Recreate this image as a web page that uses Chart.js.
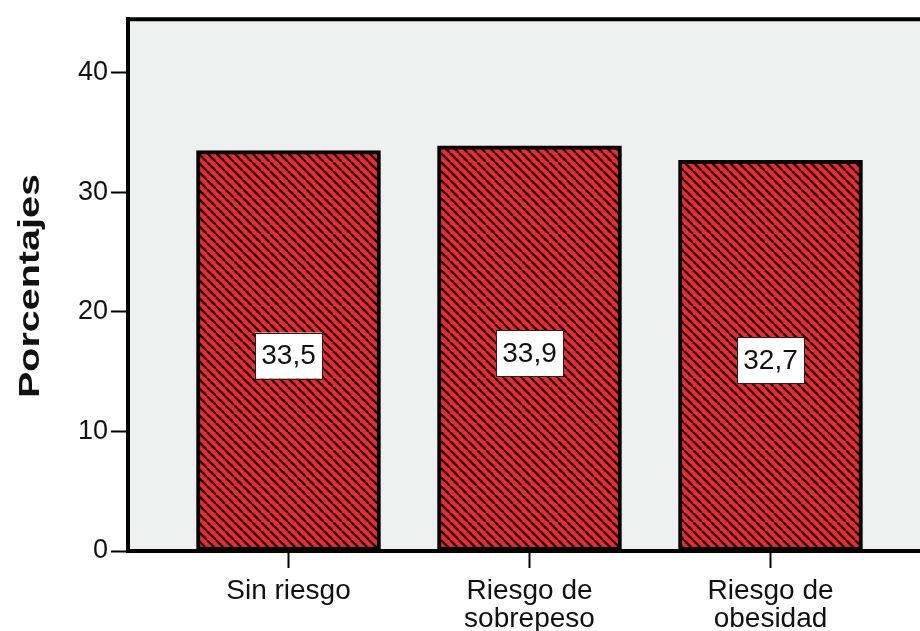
<!DOCTYPE html>
<html>
<head>
<meta charset="utf-8">
<script src="https://cdn.jsdelivr.net/npm/chart.js@4/dist/chart.umd.min.js"></script>
<style>
  html, body { margin: 0; padding: 0; background: #fff; overflow: hidden; }
  #wrap { width: 950px; height: 631px; }
</style>
</head>
<body>
<div id="wrap"><canvas id="chart" width="950" height="631"></canvas></div>
<script>
// Porcentajes por categoría de riesgo
const categories = [['Sin riesgo'], ['Riesgo de', 'sobrepeso'], ['Riesgo de', 'obesidad']];
const values = [33.5, 33.9, 32.7];
const yTicks = [0, 10, 20, 30, 40];
const yTitle = 'Porcentajes';

const FONT = '"Liberation Sans", Arial, sans-serif';

// diagonal hatch fill (red with black "\" stripes)
function makeHatch() {
    const size = 9;
    const c = document.createElement('canvas');
    c.width = size; c.height = size;
    const g = c.getContext('2d');
    g.fillStyle = '#ec2a30';
    g.fillRect(0, 0, size, size);
    g.strokeStyle = '#220707';
    g.lineWidth = 2.4;
    for (const k of [-size, 0, size]) {
        g.beginPath();
        g.moveTo(k, 0);
        g.lineTo(k + size, size);
        g.stroke();
    }
    return g.createPattern(c, 'repeat');
}

// plot background + top/right frame
const frame = {
    id: 'frame',
    beforeDraw(chart) {
        const { ctx, chartArea: a } = chart;
        ctx.save();
        ctx.fillStyle = '#eff1f1';
        ctx.fillRect(a.left, a.top, a.right - a.left, a.bottom - a.top);
        ctx.restore();
    },
    afterDatasetsDraw(chart) {
        const { ctx, chartArea: a } = chart;
        ctx.save();
        ctx.strokeStyle = '#000';
        ctx.lineWidth = 4;
        ctx.beginPath();
        ctx.moveTo(a.left - 2, a.top);
        ctx.lineTo(a.right, a.top);
        ctx.lineTo(a.right, a.bottom);
        ctx.stroke();
        ctx.restore();
    }
};

// boxed value labels in the middle of each bar
const valueBoxes = {
    id: 'valueBoxes',
    afterDatasetsDraw(chart) {
        const { ctx } = chart;
        const meta = chart.getDatasetMeta(0);
        ctx.save();
        ctx.font = '28px ' + FONT;
        ctx.textAlign = 'center';
        ctx.textBaseline = 'middle';
        meta.data.forEach((bar, i) => {
            const txt = values[i].toFixed(1).replace('.', ',');
            const cx = bar.x;
            const cy = (bar.y + bar.base) / 2 + 5;
            const w = 67, h = 46;
            ctx.fillStyle = '#fff';
            ctx.fillRect(cx - w / 2, cy - h / 2, w, h);
            ctx.strokeStyle = '#222';
            ctx.lineWidth = 1;
            ctx.strokeRect(Math.round(cx - w / 2) + 0.5, Math.round(cy - h / 2) + 0.5, w, h);
            ctx.fillStyle = '#111';
            ctx.fillText(txt, cx, cy + 1);
        });
        ctx.restore();
    }
};

// rotated axis title, stretched along its length
const axisTitle = {
    id: 'axisTitle',
    afterDraw(chart) {
        const { ctx, chartArea: a } = chart;
        ctx.save();
        ctx.font = 'bold 29px ' + FONT;
        ctx.fillStyle = '#111';
        ctx.textAlign = 'center';
        ctx.textBaseline = 'middle';
        const w = ctx.measureText(yTitle).width;
        ctx.translate(31, (a.top + a.bottom) / 2 + 1);
        ctx.rotate(-Math.PI / 2);
        ctx.scale(224 / w, 1);
        ctx.fillText(yTitle, 0, 0);
        ctx.restore();
    }
};

new Chart(document.getElementById('chart'), {
    type: 'bar',
    data: {
        datasets: [{
            data: values.map((v, i) => ({ x: i, y: v })),
            backgroundColor: makeHatch(),
            borderColor: '#000',
            borderWidth: 4,
            borderSkipped: false,
            barThickness: 184
        }]
    },
    options: {
        responsive: false,
        animation: false,
        layout: { padding: { top: 17, left: 0, right: 19, bottom: 0 } },
        plugins: { legend: { display: false }, tooltip: { enabled: false } },
        scales: {
            x: {
                type: 'linear',
                offset: false,
                min: -0.666,
                max: 2.666,
                afterBuildTicks: s => { s.ticks = categories.map((_, i) => ({ value: i })); },
                afterFit: s => { s.height = 631 - 551; },
                ticks: {
                    callback: v => categories[v],
                    color: '#111',
                    font: { family: FONT, size: 28, lineHeight: 1.0 },
                    padding: 9,
                    maxRotation: 0
                },
                grid: { offset: false, drawOnChartArea: false, tickLength: 17, tickWidth: 2, tickColor: '#000' },
                border: { display: true, width: 4, color: '#000' }
            },
            y: {
                min: 0,
                max: 44.5,
                afterBuildTicks: s => { s.ticks = yTicks.map(v => ({ value: v })); },
                afterFit: s => { s.width = 128; },
                ticks: {
                    color: '#111',
                    font: { family: FONT, size: 27 },
                    padding: 3
                },
                grid: { drawOnChartArea: false, tickLength: 17, tickWidth: 2, tickColor: '#000' },
                border: { display: true, width: 4, color: '#000' }
            }
        }
    },
    plugins: [frame, valueBoxes, axisTitle]
});
</script>
</body>
</html>
